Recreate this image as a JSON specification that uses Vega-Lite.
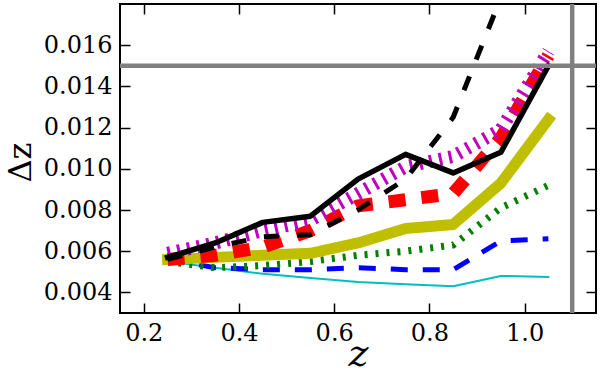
{
  "$schema": "https://vega.github.io/schema/vega-lite/v6.json",
  "width": 476,
  "height": 309,
  "autosize": {"type": "none"},
  "padding": {"left": 120, "top": 4, "right": 4, "bottom": 61},
  "background": "white",
  "config": {
    "font": "DejaVu Serif",
    "view": {"stroke": "black", "strokeWidth": 2},
    "axis": {
      "tickSize": -10, "tickColor": "black", "tickWidth": 1.5, "domain": false, "grid": false,
      "labelColor": "black", "titleColor": "black", "titleFontWeight": "normal"
    }
  },
  "resolve": {"axis": {"x": "independent", "y": "independent"}},
  "datasets": {
    "lines": [
      {"z": 0.25, "s": "bs", "v": 0.0057}, {"z": 0.35, "s": "bs", "v": 0.0064}, {"z": 0.45, "s": "bs", "v": 0.0074}, {"z": 0.55, "s": "bs", "v": 0.0077}, {"z": 0.65, "s": "bs", "v": 0.0095}, {"z": 0.75, "s": "bs", "v": 0.0107}, {"z": 0.85, "s": "bs", "v": 0.0098}, {"z": 0.95, "s": "bs", "v": 0.0108}, {"z": 1.05, "s": "bs", "v": 0.0150},
      {"z": 0.25, "s": "bd", "v": 0.0056}, {"z": 0.35, "s": "bd", "v": 0.0062}, {"z": 0.45, "s": "bd", "v": 0.0067}, {"z": 0.55, "s": "bd", "v": 0.0068}, {"z": 0.65, "s": "bd", "v": 0.0080}, {"z": 0.75, "s": "bd", "v": 0.0095}, {"z": 0.85, "s": "bd", "v": 0.0125}, {"z": 0.95, "s": "bd", "v": 0.0183}, {"z": 1.05, "s": "bd", "v": 0.0250},
      {"z": 0.25, "s": "r", "v": 0.0056}, {"z": 0.35, "s": "r", "v": 0.0058}, {"z": 0.45, "s": "r", "v": 0.0062}, {"z": 0.55, "s": "r", "v": 0.0070}, {"z": 0.65, "s": "r", "v": 0.0082}, {"z": 0.75, "s": "r", "v": 0.0085}, {"z": 0.85, "s": "r", "v": 0.0088}, {"z": 0.95, "s": "r", "v": 0.0115}, {"z": 1.05, "s": "r", "v": 0.0155},
      {"z": 0.25, "s": "m", "v": 0.0059}, {"z": 0.35, "s": "m", "v": 0.0064}, {"z": 0.45, "s": "m", "v": 0.0070}, {"z": 0.55, "s": "m", "v": 0.0075}, {"z": 0.65, "s": "m", "v": 0.0088}, {"z": 0.75, "s": "m", "v": 0.0101}, {"z": 0.85, "s": "m", "v": 0.0106}, {"z": 0.95, "s": "m", "v": 0.0119}, {"z": 1.05, "s": "m", "v": 0.0157},
      {"z": 0.25, "s": "y", "v": 0.0056}, {"z": 0.35, "s": "y", "v": 0.0057}, {"z": 0.45, "s": "y", "v": 0.0058}, {"z": 0.55, "s": "y", "v": 0.0059}, {"z": 0.65, "s": "y", "v": 0.0064}, {"z": 0.75, "s": "y", "v": 0.0071}, {"z": 0.85, "s": "y", "v": 0.0073}, {"z": 0.95, "s": "y", "v": 0.0093}, {"z": 1.05, "s": "y", "v": 0.0124},
      {"z": 0.25, "s": "g", "v": 0.0055}, {"z": 0.35, "s": "g", "v": 0.0052}, {"z": 0.45, "s": "g", "v": 0.0053}, {"z": 0.55, "s": "g", "v": 0.0055}, {"z": 0.65, "s": "g", "v": 0.0058}, {"z": 0.75, "s": "g", "v": 0.0060}, {"z": 0.85, "s": "g", "v": 0.0063}, {"z": 0.95, "s": "g", "v": 0.0081}, {"z": 1.05, "s": "g", "v": 0.0092},
      {"z": 0.25, "s": "b", "v": 0.0056}, {"z": 0.35, "s": "b", "v": 0.0052}, {"z": 0.45, "s": "b", "v": 0.0051}, {"z": 0.55, "s": "b", "v": 0.0051}, {"z": 0.65, "s": "b", "v": 0.0052}, {"z": 0.75, "s": "b", "v": 0.0051}, {"z": 0.85, "s": "b", "v": 0.0051}, {"z": 0.95, "s": "b", "v": 0.0065}, {"z": 1.05, "s": "b", "v": 0.0066},
      {"z": 0.25, "s": "c", "v": 0.0055}, {"z": 0.35, "s": "c", "v": 0.0052}, {"z": 0.45, "s": "c", "v": 0.0049}, {"z": 0.55, "s": "c", "v": 0.0047}, {"z": 0.65, "s": "c", "v": 0.0045}, {"z": 0.75, "s": "c", "v": 0.0044}, {"z": 0.85, "s": "c", "v": 0.0043}, {"z": 0.95, "s": "c", "v": 0.0048}, {"z": 1.05, "s": "c", "v": 0.00475}
    ],
    "vline": [{"zlim": 1.1}],
    "hline": [{"dlim": 0.015}]
  },
  "layer": [
    {
      "data": {"name": "lines"},
      "transform": [{"filter": "datum.s == 'c'"}],
      "mark": {"type": "line", "stroke": "#00bfbf", "strokeWidth": 2, "strokeJoin": "round", "strokeCap": "square", "clip": true},
      "encoding": {
        "x": {"field": "z", "type": "quantitative", "scale": {"domain": [0.15, 1.15], "nice": false, "zero": false},
          "axis": {"orient": "bottom", "values": [0.2, 0.4, 0.6, 0.8, 1.0], "format": ".1f", "labelPadding": 18,
            "labelFont": "DejaVu Serif", "labelFontSize": 24,
            "title": "z", "titleFont": "DejaVu Serif", "titleFontSize": 38, "titleFontStyle": "italic",
            "titleBaseline": "bottom", "titleY": 60, "titleX": 238, "titleAlign": "center"}},
        "y": {"field": "v", "type": "quantitative", "scale": {"domain": [0.003, 0.018], "nice": false, "zero": false},
          "axis": {"orient": "left", "values": [0.004, 0.006, 0.008, 0.010, 0.012, 0.014, 0.016], "format": ".3f", "labelPadding": 18,
            "labelFont": "DejaVu Serif", "labelFontSize": 24,
            "title": "Δz", "titleFont": "DejaVu Serif", "titleFontSize": 32,
            "titleAngle": -90, "titleBaseline": "alphabetic", "titleAlign": "center", "titleX": -90, "titleY": 158}}
      }
    },
    {
      "data": {"name": "lines"},
      "transform": [{"filter": "datum.s == 'b'"}],
      "mark": {"type": "line", "stroke": "#0000ff", "strokeWidth": 5, "strokeDash": [17, 15], "strokeJoin": "round", "clip": true},
      "encoding": {"x": {"field": "z", "type": "quantitative", "axis": null}, "y": {"field": "v", "type": "quantitative", "axis": null}}
    },
    {
      "data": {"name": "lines"},
      "transform": [{"filter": "datum.s == 'g'"}],
      "mark": {"type": "line", "stroke": "#008000", "strokeWidth": 7, "strokeDash": [3, 8], "strokeJoin": "round", "clip": true},
      "encoding": {"x": {"field": "z", "type": "quantitative", "axis": null}, "y": {"field": "v", "type": "quantitative", "axis": null}}
    },
    {
      "data": {"name": "lines"},
      "transform": [{"filter": "datum.s == 'y'"}],
      "mark": {"type": "line", "stroke": "#bfbf00", "strokeWidth": 11, "strokeJoin": "round", "strokeCap": "square", "clip": true},
      "encoding": {"x": {"field": "z", "type": "quantitative", "axis": null}, "y": {"field": "v", "type": "quantitative", "axis": null}}
    },
    {
      "data": {"name": "lines"},
      "transform": [{"filter": "datum.s == 'r'"}],
      "mark": {"type": "line", "stroke": "#ff0000", "strokeWidth": 13, "strokeDash": [17, 16], "strokeJoin": "round", "clip": true},
      "encoding": {"x": {"field": "z", "type": "quantitative", "axis": null}, "y": {"field": "v", "type": "quantitative", "axis": null}}
    },
    {
      "data": {"name": "lines"},
      "transform": [{"filter": "datum.s == 'm'"}],
      "mark": {"type": "line", "stroke": "#bf00bf", "strokeWidth": 13, "strokeDash": [3, 7], "strokeJoin": "round", "clip": true},
      "encoding": {"x": {"field": "z", "type": "quantitative", "axis": null}, "y": {"field": "v", "type": "quantitative", "axis": null}}
    },
    {
      "data": {"name": "lines"},
      "transform": [{"filter": "datum.s == 'bd'"}],
      "mark": {"type": "line", "stroke": "#000000", "strokeWidth": 5, "strokeDash": [15, 18], "strokeJoin": "round", "clip": true},
      "encoding": {"x": {"field": "z", "type": "quantitative", "axis": null}, "y": {"field": "v", "type": "quantitative", "axis": null}}
    },
    {
      "data": {"name": "lines"},
      "transform": [{"filter": "datum.s == 'bs'"}],
      "mark": {"type": "line", "stroke": "#000000", "strokeWidth": 5.5, "strokeJoin": "round", "strokeCap": "square", "clip": true},
      "encoding": {"x": {"field": "z", "type": "quantitative", "axis": null}, "y": {"field": "v", "type": "quantitative", "axis": null}}
    },
    {
      "data": {"name": "vline"},
      "mark": {"type": "rule", "stroke": "#808080", "strokeWidth": 4.5},
      "encoding": {"x": {"field": "zlim", "type": "quantitative",
        "axis": {"orient": "top", "values": [0.2, 0.4, 0.6, 0.8, 1.0], "labels": false, "title": null}}}
    },
    {
      "data": {"name": "hline"},
      "mark": {"type": "rule", "stroke": "#808080", "strokeWidth": 4.5},
      "encoding": {"y": {"field": "dlim", "type": "quantitative",
        "axis": {"orient": "right", "values": [0.004, 0.006, 0.008, 0.010, 0.012, 0.014, 0.016], "labels": false, "title": null}}}
    }
  ]
}
